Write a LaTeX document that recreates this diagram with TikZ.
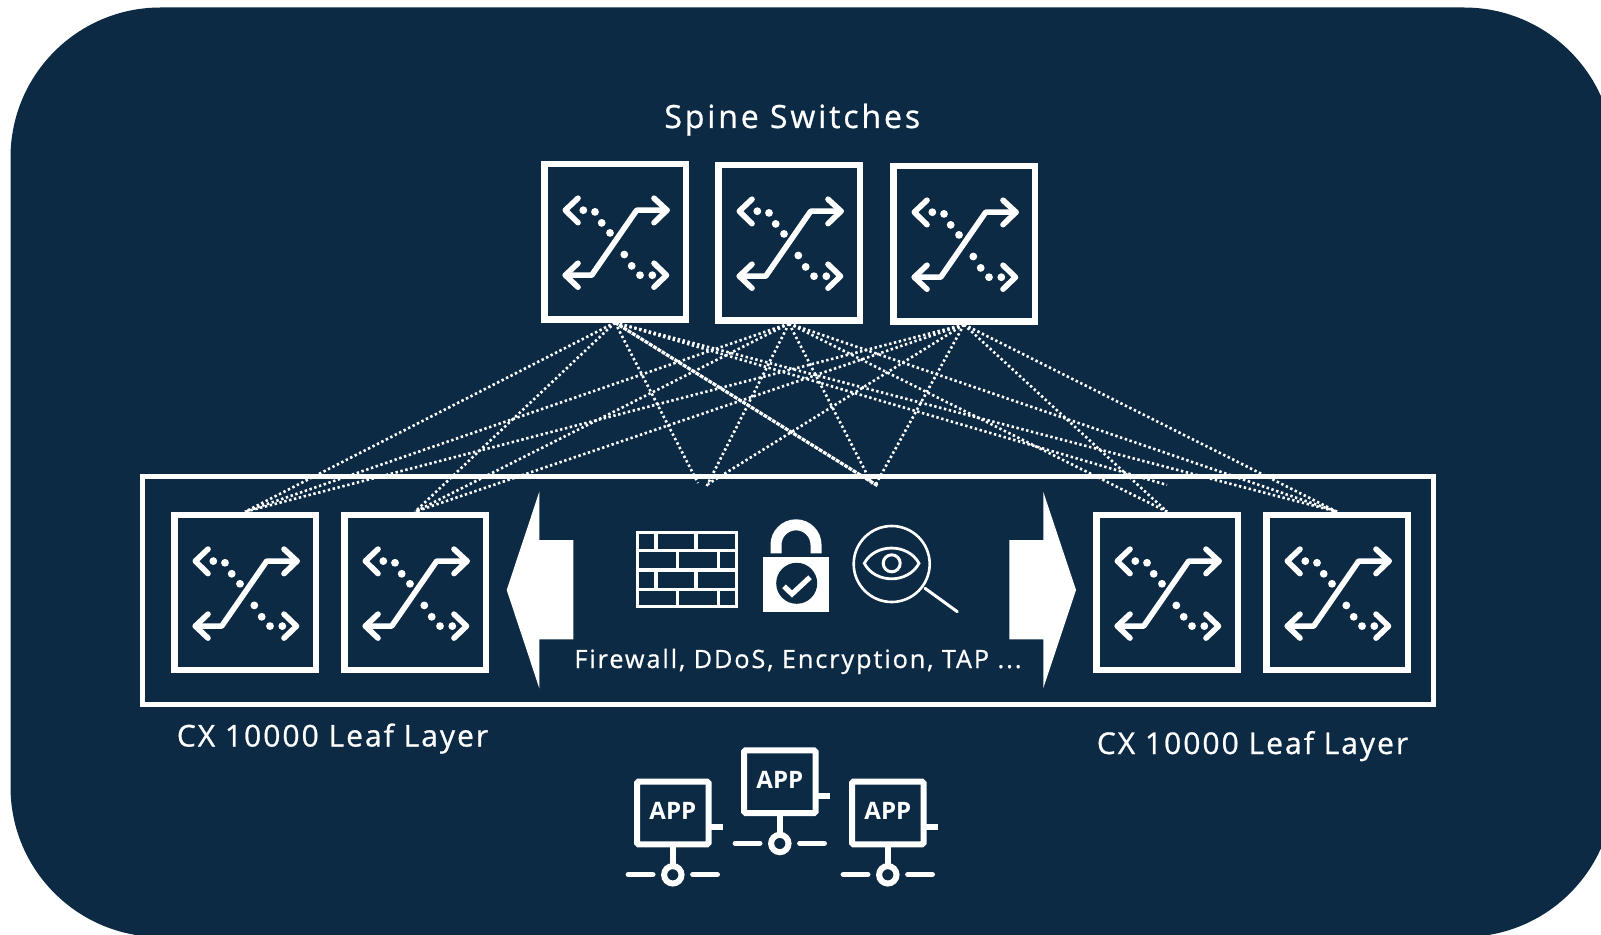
\documentclass[tikz,border=0pt]{standalone}
\usepackage{fontspec}
\setmainfont{Open Sans}
\newfontfamily\lblfont[LetterSpace=6.7,FakeBold=0.8]{Open Sans}
\newfontfamily\spinefont[LetterSpace=9,FakeBold=0.8]{Open Sans}
\newfontfamily\svcfont[LetterSpace=7.7,FakeBold=0.8]{Open Sans}
\newfontfamily\appfont{Open Sans}
\definecolor{navy}{HTML}{0D2A45}
\tikzset{
  swbox/.style={draw=white,line width=3.25pt,fill=navy,inner sep=0pt,minimum width=70.75pt,minimum height=77.6pt},
  swline/.style={draw=white,line width=2.8pt,line cap=round,line join=round},
  dotlink/.style={draw=white,line width=1.3pt,dash pattern=on 1.2pt off 1.3pt},
  denselink/.style={draw=white,line width=1.6pt,dash pattern=on 2pt off .5pt},
  lbl/.style={text=white,inner sep=0pt,anchor=base west,font=\lblfont\fontsize{15}{18}\selectfont},
  iconline/.style={draw=white,line width=1.7pt},
  applink/.style={draw=white,line width=2.7pt,line cap=round},
  appbox/.style={draw=white,line width=3pt,fill=navy,rounded corners=.8pt,inner sep=0pt,minimum width=35.8pt,minimum height=31.4pt},
  apptext/.style={text=white,inner sep=0pt,font=\appfont\bfseries\fontsize{12}{14}\selectfont},
}
\newcommand\swglyph[1]{%
  \begin{scope}[shift={(#1.center)}]
    \draw[swline] (52,-31.5) -- (21.7,-31.5) -- (-23.3,33.5) -- (-49.7,33.5);
    \draw[swline] (39,-43.5) -- (52,-31.5) -- (39,-19);
    \draw[swline] (-37,21.5) -- (-49.7,33.5) -- (-37,45.5);
    \draw[swline] (-37,-43.5) -- (-49.7,-31.5) -- (-37,-19);
    \draw[swline] (39,21.5) -- (51.5,33.5) -- (39,45.5);
    \foreach \p in {(-31.7,-31.5),(-20,-29.8),(-13.3,-18.8),(-5,-8.8),(9.3,12.8),(16.7,24.2),(25,33.5),(37.3,33.5)}
      \fill[white] \p circle (3.9);
  \end{scope}}
\newcommand\appicon[3]{%
  \node[appbox] (#1) at (#2,#3) {};
  \node[apptext] (#1t) at ([yshift=1pt]#1.center) {APP};
  \begin{scope}[shift={(#1.center)}]
    \coordinate (#1stubA) at (35.9,14.3);
    \coordinate (#1stubB) at (50.5,14.3);
    \coordinate (#1stemA) at (0,31);
    \coordinate (#1stemB) at (0,53);
    \coordinate (#1lA) at (-44.5,61.5);
    \coordinate (#1lB) at (-20,61.5);
    \coordinate (#1rA) at (20,61.5);
    \coordinate (#1rB) at (44.5,61.5);
    \draw[white,line width=3pt] (#1stubA) -- (#1stubB);
    \draw[white,line width=3pt] (#1stemA) -- (#1stemB);
    \draw[white,line width=3pt] (0,61.8) circle (8.7);
    \draw[applink] (#1lA) -- (#1lB);
    \draw[applink] (#1rA) -- (#1rB);
  \end{scope}}
\begin{document}
\begin{tikzpicture}[x=.5pt,y=-.5pt]
  \useasboundingbox (0,0) rectangle (1601,935);
  \fill[white] (0,0) rectangle (1601,935);
  \begin{scope}
    \clip (0,0) rectangle (1601,935);
    \fill[navy,rounded corners=75pt] (10.5,7.5) rectangle (1614,937);
  \end{scope}

  % leaf container
  \node[draw=white,line width=2.5pt,inner sep=0pt,minimum width=645.6pt,minimum height=113.6pt] (layer) at (787.6,590.6) {};

  % switches
  \node[swbox] (s1) at (615,241.7) {};
  \node[swbox] (s2) at (789,242.7) {};
  \node[swbox] (s3) at (964,243.7) {};
  \node[swbox] (l1) at (245,592.6) {};
  \node[swbox] (l2) at (415,592.6) {};
  \node[swbox] (l3) at (1167,592.6) {};
  \node[swbox] (l4) at (1337,592.6) {};
  \swglyph{s1}\swglyph{s2}\swglyph{s3}\swglyph{l1}\swglyph{l2}\swglyph{l3}\swglyph{l4}

  % free connector ends
  \coordinate (ma) at (698,483);
  \coordinate (mb) at (706.7,486);
  \coordinate (mc) at (708,484);
  \coordinate (md) at (878,486);
  \coordinate (me) at (872,484);
  \coordinate (mf) at (876,484);
  \coordinate (eth) at (1167,485);

  % connectors
  \draw[dotlink] (s1.south) -- (l1.north);
  \draw[dotlink] (s1.south) -- (l2.north);
  \draw[dotlink] (s1.south) -- (ma);
  \draw[denselink] (s1.south) -- (md);
  \draw[dotlink] (s1.south) -- (eth);
  \draw[dotlink] (s1.south) -- (l4.north);
  \draw[dotlink] (s2.south) -- (l1.north);
  \draw[dotlink] (s2.south) -- (l2.north);
  \draw[dotlink] (s2.south) -- (mb);
  \draw[dotlink] (s2.south) -- (me);
  \draw[dotlink] (s2.south) -- (l3.north);
  \draw[dotlink] (s2.south) -- (l4.north);
  \draw[dotlink] (s3.south) -- (l1.north);
  \draw[dotlink] (s3.south) -- (l2.north);
  \draw[dotlink] (s3.south) -- (mc);
  \draw[dotlink] (s3.south) -- (mf);
  \draw[dotlink] (s3.south) -- (l3.north);
  \draw[dotlink] (s3.south) -- (l4.north);

  % block arrows
  \fill[white] (506.7,590) -- (539.3,491.7) -- (539.3,540) -- (573.3,540) -- (573.3,639.3) -- (539.3,639.3) -- (539.3,688.3) -- cycle;
  \fill[white] (1076,590) -- (1043.3,491.7) -- (1043.3,540) -- (1009.3,540) -- (1009.3,639.3) -- (1043.3,639.3) -- (1043.3,688.3) -- cycle;

  % firewall
  \draw[iconline] (637.5,532.3) rectangle (736.7,606.7);
  \draw[iconline] (637.5,550.7) -- (736.7,550.7) (637.5,570) -- (736.7,570) (637.5,589.3) -- (736.7,589.3);
  \draw[iconline] (656,532.3) -- (656,550.7) (696,532.3) -- (696,550.7)
                  (677.3,550.7) -- (677.3,570) (718.3,550.7) -- (718.3,570)
                  (656,570) -- (656,589.3) (696,570) -- (696,589.3)
                  (677.3,589.3) -- (677.3,606.7) (718.3,589.3) -- (718.3,606.7);

  % padlock
  \fill[white] (763,557.3) rectangle (829,611.7);
  \draw[white,line width=5.5pt] (776,553.3) -- (776,544.8) .. controls (776,533.8) and (785,524.8) .. (796,524.8) .. controls (807,524.8) and (816,533.8) .. (816,544.8) -- (816,553.3);
  \fill[navy] (796.7,583.3) circle (20.5);
  \draw[white,line width=2.6pt,line join=miter] (784,586.3) -- (792,594) -- (810,577.3);

  % magnifier with eye
  \draw[white,line width=1.3pt] (891.7,564) circle (38);
  \draw[white,line width=1.4pt] (864.3,563.3) .. controls (875,543) and (908,543) .. (919,563.3) .. controls (908,584) and (875,584) .. (864.3,563.3) -- cycle;
  \draw[white,line width=1.5pt] (891.7,563.3) circle (8.5);
  \draw[white,line width=1.5pt,line cap=round] (925,588.3) -- (957.3,611.7);

  % labels
  \node[lbl,font=\spinefont\fontsize{16}{19}\selectfont] (spine) at (664,128) {Spine Switches};
  \node[lbl] (leafa) at (176.5,746.5) {CX 10000 Leaf Layer};
  \node[lbl] (leafb) at (1096.5,754) {CX 10000 Leaf Layer};
  \node[lbl,font=\svcfont\fontsize{12.6}{15}\selectfont] (svc) at (574,668) {Firewall, DDoS, Encryption, TAP ...};

  % app icons
  \appicon{a1}{672.8}{813}
  \appicon{a2}{779.8}{781.7}
  \appicon{a3}{887.8}{813}
\end{tikzpicture}
\end{document}
